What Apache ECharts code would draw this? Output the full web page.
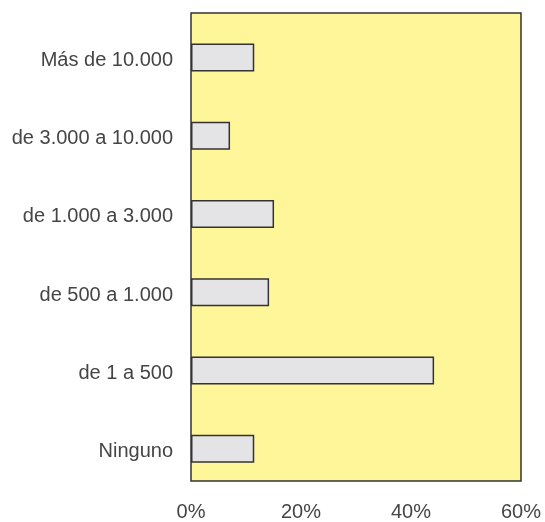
<!DOCTYPE html>
<html>
<head>
<meta charset="utf-8">
<script src="https://cdn.jsdelivr.net/npm/echarts@6/dist/echarts.min.js"></script>
<style>
  html, body { margin: 0; padding: 0; background: #fff; }
  #chart { width: 545px; height: 522px; }
</style>
</head>
<body>
<div id="chart"></div>
<script>
// categories bottom to top (category axis draws first item at bottom)
const categories = ["Ninguno", "de 1 a 500", "de 500 a 1.000", "de 1.000 a 3.000", "de 3.000 a 10.000", "Más de 10.000"];
const values = [11.5, 44.2, 14.2, 15.1, 7.1, 11.5];
const xTicks = [0, 20, 40, 60];

const textColor = "#454545";
const font = "Liberation Sans, Arial, sans-serif";

const chart = echarts.init(document.getElementById("chart"));

const option = {
    animation: false,
    grid: [
        {
            // frame + x axis
            left: 191, right: 24, top: 13, bottom: 40,
            show: true,
            backgroundColor: "#fff599",
            borderColor: "#333",
            borderWidth: 1.5,
        },
        {
            // bars sit a little lower than the frame centre lines
            left: 191, right: 24, top: 18.4, bottom: 34.2,
        },
    ],
    xAxis: [
        {
            gridIndex: 0,
            type: "value",
            min: xTicks[0],
            max: xTicks[xTicks.length - 1],
            interval: 20,
            axisLine: { show: false },
            axisTick: { show: false },
            splitLine: { show: false },
            axisLabel: {
                margin: 21,
                color: textColor,
                fontFamily: font,
                fontSize: 20,
                formatter: "{value}%",
            },
        },
        {
            gridIndex: 1,
            type: "value",
            min: xTicks[0],
            max: xTicks[xTicks.length - 1],
            show: false,
        },
    ],
    yAxis: [
        {
            gridIndex: 0,
            type: "value",
            show: false,
        },
        {
            gridIndex: 1,
            type: "category",
            data: categories,
            axisLine: { show: false },
            axisTick: { show: false },
            axisLabel: {
                margin: 18,
                formatter: (v) => `{a|${v}}`,
                rich: {
                    a: {
                        padding: [6, 0, 0, 0],
                        color: textColor,
                        fontFamily: font,
                        fontSize: 20,
                    },
                },
            },
        },
    ],
    series: [
        {
            type: "bar",
            xAxisIndex: 1,
            yAxisIndex: 1,
            data: values,
            barWidth: 28,
            itemStyle: {
                color: "#e4e4e6",
                borderColor: "#333",
                borderWidth: 1.5,
            },
        },
    ],
};

chart.setOption(option);
</script>
</body>
</html>
